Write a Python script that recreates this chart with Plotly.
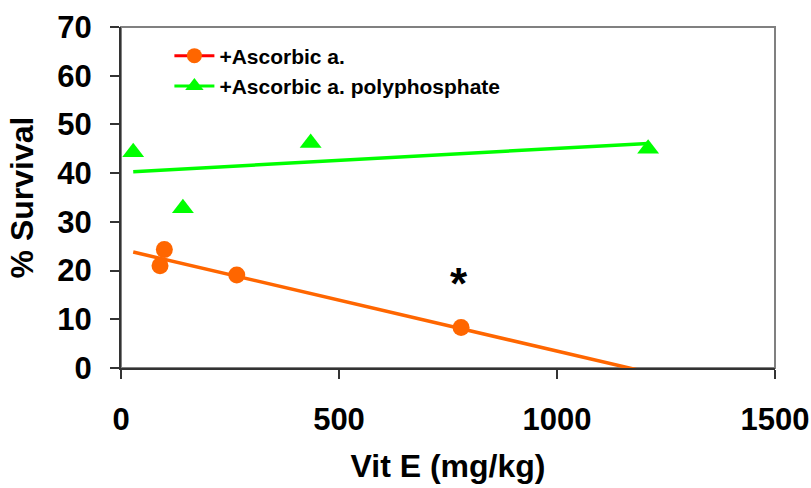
import plotly.graph_objects as go

# ---- data ----
asc_x = [99.4, 89.5, 265.5, 780]
asc_y = [24.3, 21.0, 19.1, 8.3]
poly_x = [28, 142, 435, 1209]
poly_y = [44.3, 32.8, 46.2, 45.0]
trend_asc_y = [23.8, -0.9]      # trendline at start / end of x span
trend_poly_y = [40.3, 46.1]
star_x = [775]
star_y = [18]
x_ticks = [0, 500, 1000, 1500]
y_ticks = [0, 10, 20, 30, 40, 50, 60, 70]
series_names = ["+Ascorbic a.", "+Ascorbic a. polyphosphate"]

ORANGE = "#FF6600"
RED = "#FF0000"
GREEN = "#00FF00"
FONT = "Liberation Sans, Arial, sans-serif"

trend_x = [min(poly_x), max(poly_x)]

fig = go.Figure()

# trendlines
fig.add_trace(go.Scatter(x=trend_x, y=trend_asc_y, mode="lines",
                         line=dict(color=ORANGE, width=3.5), showlegend=False, hoverinfo="skip"))
fig.add_trace(go.Scatter(x=trend_x, y=trend_poly_y, mode="lines",
                         line=dict(color=GREEN, width=3.5), showlegend=False, hoverinfo="skip"))

# data markers
fig.add_trace(go.Scatter(x=asc_x, y=asc_y, mode="markers",
                         marker=dict(symbol="circle", size=17, color=ORANGE),
                         showlegend=False, name=series_names[0]))
fig.add_trace(go.Scatter(x=poly_x, y=poly_y, mode="markers",
                         marker=dict(symbol="triangle-up", size=19, color=GREEN),
                         showlegend=False, name=series_names[1]))

# legend entries
fig.add_trace(go.Scatter(x=[None], y=[None], mode="lines+markers", name=series_names[0],
                         line=dict(color=RED, width=3),
                         marker=dict(symbol="circle", size=15, color=ORANGE)))
fig.add_trace(go.Scatter(x=[None], y=[None], mode="lines+markers", name=series_names[1],
                         line=dict(color=GREEN, width=3),
                         marker=dict(symbol="triangle-up", size=17, color=GREEN)))

fig.add_annotation(x=star_x[0], y=star_y[0], text="*", showarrow=False,
                   font=dict(family=FONT, size=44, color="black", weight="bold"),
                   yshift=-3)

# plot-area border (gray top/right)
fig.add_shape(type="rect", xref="paper", yref="paper", x0=0, x1=1, y0=0, y1=1,
              line=dict(color="#808080", width=2), layer="below")

axis_common = dict(
    showgrid=False, zeroline=False, showline=True, linecolor="#333333", linewidth=2,
    ticks="outside", ticklen=9, tickwidth=1.5, tickcolor="#333333", automargin=False,
    tickfont=dict(family=FONT, size=31, color="black", weight="bold"),
)

fig.update_xaxes(range=[0, 1500], tickvals=x_ticks, ticklabelstandoff=14,
                 title=dict(text="Vit E (mg/kg)", standoff=18,
                            font=dict(family=FONT, size=32, color="black", weight="bold")),
                 **axis_common)
fig.update_yaxes(range=[0, 70], tickvals=y_ticks, ticklabelstandoff=12,
                 title=dict(text="% Survival", standoff=14,
                            font=dict(family=FONT, size=32, color="black", weight="bold")),
                 **axis_common)

fig.update_layout(
    width=811, height=488,
    margin=dict(l=121, r=36, t=27, b=120, autoexpand=False),
    paper_bgcolor="white", plot_bgcolor="white",
    legend=dict(x=0.074, y=0.975, xanchor="left", yanchor="top",
                bgcolor="rgba(0,0,0,0)",
                font=dict(family=FONT, size=21, color="black", weight="bold"),
                itemwidth=40, tracegroupgap=0),
    showlegend=True,
)

fig.write_html("out.html", config={"displayModeBar": False},
               post_script="document.body.style.margin='0px';document.body.style.overflow='hidden';")
